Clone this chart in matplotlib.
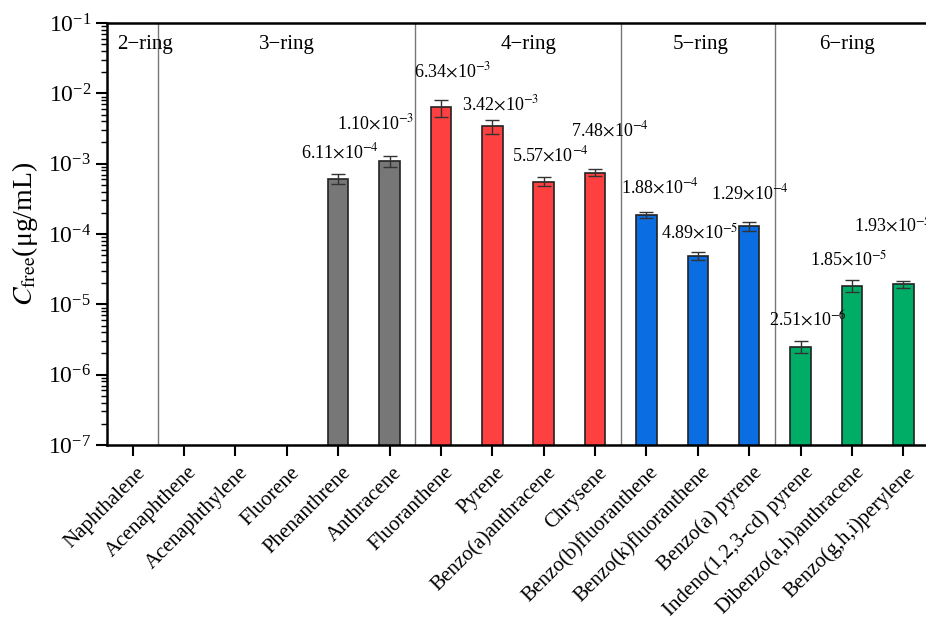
import numpy as np
import matplotlib
matplotlib.use("Agg")
import matplotlib.pyplot as plt

plt.rcParams['font.family'] = ['Liberation Serif', 'DejaVu Serif']
plt.rcParams['mathtext.fontset'] = 'stix'

# free concentrations of the 16 PAHs (ug/mL); nan = not detected
pahs = ['Naphthalene', 'Acenaphthene', 'Acenaphthylene', 'Fluorene',
        'Phenanthrene', 'Anthracene', 'Fluoranthene', 'Pyrene',
        'Benzo(a)anthracene', 'Chrysene', 'Benzo(b)fluoranthene',
        'Benzo(k)fluoranthene', 'Benzo(a) pyrene', 'Indeno(1,2,3-cd) pyrene',
        'Dibenzo(a,h)anthracene', 'Benzo(g,h,i)perylene']
c_free = [np.nan, np.nan, np.nan, np.nan,
          6.11e-4, 1.10e-3, 6.34e-3, 3.42e-3, 5.57e-4, 7.48e-4,
          1.88e-4, 4.89e-5, 1.29e-4, 2.51e-6, 1.85e-5, 1.93e-5]
c_err = [np.nan, np.nan, np.nan, np.nan,
         1.0e-4, 1.9e-4, 1.7e-3, 8.0e-4, 8.0e-5, 8.0e-5,
         1.9e-5, 6.0e-6, 1.8e-5, 5.0e-7, 3.7e-6, 2.5e-6]
mantissa = ['', '', '', '', '6.11', '1.10', '6.34', '3.42', '5.57', '7.48',
            '1.88', '4.89', '1.29', '2.51', '1.85', '1.93']
exponent = [0, 0, 0, 0, -4, -3, -3, -3, -4, -4, -4, -5, -4, -6, -5, -5]

ring_groups = ['2\u2212ring', '3\u2212ring', '4\u2212ring', '5\u2212ring', '6\u2212ring']
ring_bounds = [(-0.5, 0.5), (0.5, 5.5), (5.5, 9.5), (9.5, 12.5), (12.5, 15.5)]
ring_text_x = [0.23, 3.0, 7.7, 11.05, 13.9]
ring_of = [0, 1, 1, 1, 1, 1, 2, 2, 2, 2, 3, 3, 3, 4, 4, 4]
ring_colors = ['#777777', '#777777', '#ff4040', '#0a6de2', '#00ad66']

# label offsets from the bar top, in pixels
lab_dx = [0, 0, 0, 0, 2, -14, 12, 8, 7, 15, 14, 2, 1, 7, -3, -11]
lab_dy = [0, 0, 0, 0, 27, 38, 36, 22, 27, 43, 28, 23, 33, 27, 26, 59]

fig = plt.figure(figsize=(9.26, 6.21), dpi=100)
ax = fig.add_axes([107/926, 176/621, 822/926, 422/621])

x = np.arange(len(pahs))
colors = [ring_colors[r] for r in ring_of]
ax.bar(x, c_free, width=0.4, color=colors, edgecolor='#222222', linewidth=1.2,
       yerr=c_err, error_kw=dict(ecolor='#333333', elinewidth=1, capsize=5, capthick=1))

for i in range(len(pahs)):
    if np.isnan(c_free[i]):
        continue
    ax.annotate(mantissa[i] + r'$\times$10$^{%d}$' % exponent[i],
                xy=(x[i], c_free[i]), xytext=(lab_dx[i], lab_dy[i]),
                textcoords='offset pixels', ha='center', va='center', fontsize=13)

for (lo, hi), name, tx in zip(ring_bounds, ring_groups, ring_text_x):
    if lo > -0.5:
        ax.axvline(lo, color='#777777', linewidth=1)
    ax.text(tx, 5e-2, name, ha='center', va='center', fontsize=15)

ax.set_yscale('log')
ax.set_ylim(1e-7, 1e-1)
ax.set_xlim(-0.5, 15.5)
ax.set_xticks(x, labels=[''] * len(pahs))
# slanted compound names, ending just right of each tick
for i, name in enumerate(pahs):
    ax.annotate(name, xy=(x[i], 0), xycoords=('data', 'axes fraction'),
                xytext=(13, -28), textcoords='offset pixels', rotation=45,
                ha='right', va='baseline', rotation_mode='anchor', fontsize=15)
ax.set_ylabel(r'$C_{\rm free}$(μg/mL)', fontsize=20, labelpad=6)
ax.tick_params(axis='both', which='major', direction='out', length=8, width=1.5, labelsize=17)
ax.tick_params(axis='y', which='minor', direction='out', length=4.5, width=1)
ax.tick_params(axis='x', which='minor', bottom=False)
for s in ax.spines.values():
    s.set_linewidth(1.8)

fig.savefig('out.png', dpi=100)
